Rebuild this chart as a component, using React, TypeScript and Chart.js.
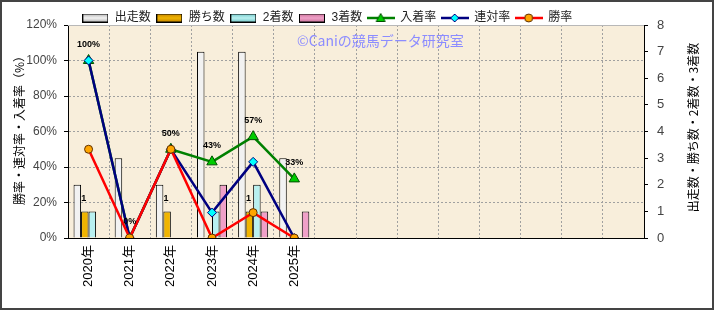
import React, { useEffect, useRef } from 'react';
import { Chart, registerables } from 'chart.js';

Chart.register(...registerables);

// ---- data ----
const categories = ['2020年', '2021年', '2022年', '2023年', '2024年', '2025年', '', '', '', '', '', '', '', ''];
const seriesNames = ['出走数', '勝ち数', '2着数', '3着数', '入着率', '連対率', '勝率'];
const starts = [2, 3, 2, 7, 7, 3];
const wins = [1, 0, 1, 0, 1, 0];
const seconds = [1, 0, 0, 1, 2, 0];
const thirds = [0, 0, 0, 2, 1, 1];
const placeRate = [100, 0, 50, 42.9, 57.1, 33.3];
const rentaiRate = [100, 0, 50, 14.3, 42.9, 0];
const winRate = [50, 0, 50, 0, 14.3, 0];
const rateAxis = { min: 0, max: 120, step: 20 };
const countAxis = { min: 0, max: 8, step: 1 };
const leftTitle = '勝率・連対率・入着率（%）';
const rightTitle = '出走数・勝ち数・2着数・3着数';
const watermark = '©Caniの競馬データ研究室';

const CJK = '"Liberation Sans", "Noto Sans CJK JP", sans-serif';
const NARROW = '"Liberation Sans Narrow", "Liberation Sans", sans-serif';

const barColors = ['#f2f2f2', '#f0b400', '#b8f0f0', '#f0a0c8'];
const barEdges = ['#b0b0b0', '#c08000', '#70c8c8', '#c87098'];

function barIcon(fill: string, edge: string) {
  const c = document.createElement('canvas');
  c.width = 26; c.height = 9;
  const g = c.getContext('2d')!;
  const grad = g.createLinearGradient(0, 0, 0, 9);
  grad.addColorStop(0, edge);
  grad.addColorStop(0.5, fill);
  grad.addColorStop(1, edge);
  g.fillStyle = grad;
  g.fillRect(0.5, 0.5, 25, 8);
  g.strokeStyle = '#000';
  g.lineWidth = 1;
  g.strokeRect(0.5, 0.5, 25, 8);
  return c;
}

function lineIcon(color: string, style: string, fill: string, edge: string) {
  const c = document.createElement('canvas');
  c.width = 28; c.height = 12;
  const g = c.getContext('2d')!;
  g.strokeStyle = color; g.lineWidth = 2.5;
  g.beginPath(); g.moveTo(0, 6); g.lineTo(28, 6); g.stroke();
  g.fillStyle = fill; g.strokeStyle = edge; g.lineWidth = 1;
  g.beginPath();
  if (style === 'triangle') {
    g.moveTo(14, 1.5); g.lineTo(18.5, 9.5); g.lineTo(9.5, 9.5); g.closePath();
  } else if (style === 'rectRot') {
    g.moveTo(14, 2); g.lineTo(18, 6); g.lineTo(14, 10); g.lineTo(10, 6); g.closePath();
  } else {
    g.arc(14, 6, 4, 0, Math.PI * 2);
  }
  g.fill(); g.stroke();
  return c;
}

const decoPlugin = {
  id: 'deco',
  beforeLayout(chart: any) {
    const lg = chart.legend;
    if (lg && !lg.__patched) {
      const orig = lg.fit;
      lg.fit = function (this: any) {
        orig.call(this);
        this.height = 18;
      };
      lg.__patched = true;
    }
  },
  afterLayout(chart: any) {
    if (chart.legend) {
      chart.legend.left -= 30;
      chart.legend.right -= 30;
    }
  },
  beforeDraw(chart: any) {
    const { ctx, chartArea: a } = chart;
    ctx.save();
    ctx.fillStyle = '#ffffff';
    ctx.fillRect(0, 0, chart.width, chart.height);
    ctx.fillStyle = '#f8eedb';
    ctx.fillRect(a.left, a.top, a.right - a.left, a.bottom - a.top);
    ctx.restore();
  },
  beforeDatasetsDraw(chart: any) {
    const { ctx, chartArea: a } = chart;
    ctx.save();
    ctx.strokeStyle = '#b8b8b8';
    ctx.lineWidth = 1;
    ctx.beginPath();
    ctx.moveTo(a.left, a.top + 0.5);
    ctx.lineTo(a.right, a.top + 0.5);
    ctx.stroke();
    ctx.fillStyle = '#8c8cff';
    ctx.font = '14px "Noto Sans CJK JP", sans-serif';
    ctx.textAlign = 'left';
    ctx.textBaseline = 'middle';
    ctx.fillText(watermark, 295, 39);
    ctx.restore();
  },
  afterDatasetsDraw(chart: any) {
    const { ctx } = chart;
    ctx.save();
    ctx.fillStyle = '#000';
    ctx.textAlign = 'center';
    ctx.textBaseline = 'middle';
    ctx.font = 'bold 9px "Liberation Sans", sans-serif';
    const pm = chart.getDatasetMeta(4);
    placeRate.forEach((v, i) => {
      const el = pm.data[i];
      if (el) ctx.fillText(Math.round(v) + '%', el.x, el.y - 16);
    });
    const wm = chart.getDatasetMeta(1);
    wins.forEach((v, i) => {
      const el = wm.data[i];
      if (el && v > 0) ctx.fillText(String(v), el.x - 1, el.y - 13);
    });
    ctx.restore();
  },
  afterDraw(chart: any) {
    const { ctx, chartArea: a } = chart;
    const cy = (a.top + a.bottom) / 2;
    ctx.save();
    ctx.fillStyle = '#000';
    ctx.font = '12px "Noto Sans CJK JP", sans-serif';
    ctx.textAlign = 'center';
    ctx.textBaseline = 'middle';
    ctx.translate(17, cy - 4);
    ctx.rotate(-Math.PI / 2);
    ctx.fillText(leftTitle, 0, 0);
    ctx.restore();
    ctx.save();
    ctx.fillStyle = '#000';
    ctx.font = '12px "Noto Sans CJK JP", sans-serif';
    ctx.textAlign = 'center';
    ctx.textBaseline = 'middle';
    ctx.translate(691, cy - 4);
    ctx.rotate(-Math.PI / 2);
    ctx.fillText(rightTitle, 0, 0);
    ctx.restore();
  },
};

export default function App() {
  const ref = useRef<HTMLCanvasElement>(null);
  useEffect(() => {
    document.body.style.margin = '0';
    const icons = [
      barIcon(barColors[0], barEdges[0]),
      barIcon(barColors[1], barEdges[1]),
      barIcon(barColors[2], barEdges[2]),
      barIcon(barColors[3], barEdges[3]),
      lineIcon('#008000', 'triangle', '#00cc00', '#005000'),
      lineIcon('#000080', 'rectRot', '#00ffff', '#000080'),
      lineIcon('#ff0000', 'circle', '#ffa500', '#603000'),
    ];
    const barDs = (i: number, data: number[]) => ({
      type: 'bar' as const,
      label: seriesNames[i],
      data,
      yAxisID: 'y1',
      backgroundColor: barColors[i],
      borderColor: '#000',
      borderWidth: 1,
      order: 10,
      categoryPercentage: 0.73,
      barPercentage: 1,
    });
    const lineDs = (i: number, data: number[], color: string, style: string, fill: string, edge: string, radius: number, order: number) => ({
      type: 'line' as const,
      label: seriesNames[i],
      data,
      yAxisID: 'y',
      borderColor: color,
      borderWidth: 2.5,
      pointStyle: style,
      pointRadius: radius,
      pointBackgroundColor: fill,
      pointBorderColor: edge,
      pointBorderWidth: 1,
      fill: false,
      tension: 0,
      order,
    });
    const chart = new Chart(ref.current!, {
      type: 'bar',
      data: {
        labels: categories,
        datasets: [
          barDs(0, starts),
          barDs(1, wins),
          barDs(2, seconds),
          barDs(3, thirds),
          lineDs(4, placeRate, '#008000', 'triangle', '#00cc00', '#005000', 6, 3),
          lineDs(5, rentaiRate, '#000080', 'rectRot', '#00ffff', '#000080', 4.5, 2),
          lineDs(6, winRate, '#ff0000', 'circle', '#ffa500', '#603000', 4, 1),
        ] as any,
      },
      options: {
        animation: false,
        responsive: false,
        devicePixelRatio: 1,
        events: [],
        layout: { padding: { top: 5, left: 0, right: 0, bottom: 0 } },
        plugins: {
          tooltip: { enabled: false },
          legend: {
            position: 'top',
            labels: {
              usePointStyle: true,
              pointStyleWidth: 27,
              padding: 5,
              color: '#222',
              font: { family: CJK, size: 12 },
              generateLabels: () =>
                seriesNames.map((name, i) => ({
                  text: name,
                  pointStyle: icons[i] as any,
                  datasetIndex: i,
                  hidden: false,
                  fillStyle: 'transparent',
                  strokeStyle: 'transparent',
                  lineWidth: 0,
                  fontColor: '#222',
                })),
            },
          },
        },
        scales: {
          x: {
            offset: true,
            grid: { color: '#a0a0a0', drawTicks: false, offset: true },
            border: { color: '#000', width: 1, dash: [2, 2] },
            ticks: {
              autoSkip: false,
              maxRotation: 90,
              minRotation: 90,
              padding: 7,
              color: '#000',
              font: { family: CJK, size: 13 },
            },
            afterFit: (s: any) => { s.height = 70; },
          },
          y: {
            position: 'left',
            min: rateAxis.min,
            max: rateAxis.max,
            grid: { color: '#a0a0a0', tickColor: '#000', tickLength: 4 },
            border: { color: '#000', width: 1, dash: [2, 2] },
            ticks: {
              stepSize: rateAxis.step,
              padding: 7,
              color: '#444',
              font: { family: NARROW, size: 12 },
              callback: (v: any) => v + '%',
            },
            afterFit: (s: any) => { s.width = 66; },
          },
          y1: {
            position: 'right',
            min: countAxis.min,
            max: countAxis.max,
            grid: { drawOnChartArea: false, tickColor: '#000', tickLength: 4 },
            border: { color: '#000', width: 1 },
            ticks: {
              stepSize: countAxis.step,
              padding: 9,
              color: '#444',
              font: { family: NARROW, size: 13 },
            },
            afterFit: (s: any) => { s.width = 68; },
          },
        },
      } as any,
      plugins: [decoPlugin as any],
    });
    return () => chart.destroy();
  }, []);
  return (
    <div style={{ width: 714, height: 310, boxSizing: 'border-box', border: '2px solid #444', background: '#fff' }}>
      <canvas ref={ref} width={710} height={306} style={{ display: 'block', width: 710, height: 306 }} />
    </div>
  );
}
